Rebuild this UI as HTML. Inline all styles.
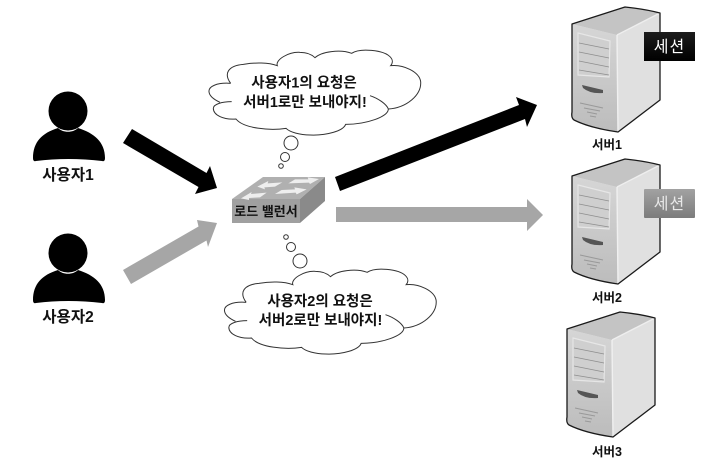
<!DOCTYPE html>
<html lang="ko"><head><meta charset="utf-8"><title>로드 밸런서</title>
<style>
html,body{margin:0;padding:0;background:#fff;width:711px;height:462px;overflow:hidden}
svg{display:block;filter:blur(.35px)}
text{font-family:"Liberation Sans","Noto Sans CJK KR",sans-serif;font-weight:700;text-anchor:middle;fill:#111}
</style></head><body>
<svg width="711" height="462" viewBox="0 0 711 462" xmlns="http://www.w3.org/2000/svg">
<defs>
<linearGradient id="f" x1="0" y1="0" x2="0" y2="1"><stop offset="0" stop-color="#d6d6d6"/><stop offset="1" stop-color="#bcbcbc"/></linearGradient>
<linearGradient id="sb" x1="0" y1="0" x2="0" y2="1"><stop offset="0" stop-color="#1c1c1c"/><stop offset="1" stop-color="#000"/></linearGradient>
<linearGradient id="sg" x1="0" y1="0" x2="0" y2="1"><stop offset="0" stop-color="#a2a2a2"/><stop offset="1" stop-color="#7c7c7c"/></linearGradient>
<g id="server">
<path d="M572,24 L625,7 Q645,9 660,13 L660,100 L618,132 Q590,128 574,120 Q571,118 572,112 Z" fill="#e0e0e0"/>
<path d="M572,24 L625,7 Q645,9 660,13 L617,35 Z" fill="#c4c4c4"/>
<path d="M572,24 L617,35 L618,132 Q590,128 574,120 Q571,118 572,112 Z" fill="url(#f)"/>
<path d="M617,35 L660,13" stroke="#eee" stroke-width="1.4" fill="none"/>
<path d="M617,35 L618,132" stroke="#f0f0f0" stroke-width="1.4" fill="none"/>
<path d="M578,33 L610,41 L609,77 L578,75 Z" fill="#cfcfcf" stroke="#e6e6e6" stroke-width="1.2"/>
<path d="M579,43 L609,49 M579,52 L609,58 M579,61 L609,67 M579,70 L609,75" stroke="#8e8e8e" stroke-width=".8" fill="none"/>
<path d="M582,85 L603,90 L603,93 Q590,94 583,88 Z" fill="#555"/>
<path d="M580,103 L603,108 M584,108 L600,111 M587,112 L597,114 M590,116 L596,117" stroke="#999" stroke-width="1.1" fill="none"/>
<path d="M572,24 L625,7 Q645,9 660,13 L660,100 L618,132 Q590,128 574,120 Q571,118 572,112 Z" fill="none" stroke="#1a1a1a" stroke-width="1.3" stroke-linejoin="round"/>
</g>
<g id="person">
<circle cx="68" cy="111" r="19.5" fill="#000"/>
<path d="M33,158 C33,142 42,133 58,128 C63,133 73,133 78,128 C94,133 105,142 105,158 Q105,162 102,161 Q68,157 36,161 Q33,162 33,158 Z" fill="#000"/>
</g>
<g id="cloud" transform="translate(200,45) scale(.33333)">
<path d="M92,115 C70,85 85,62 130,58 C165,52 205,52 232,62 C225,45 265,20 300,22 C320,22 335,28 345,38 C365,20 420,12 455,25 C480,8 550,15 570,35 C580,45 578,55 572,62 C610,58 658,80 662,110 C665,150 620,188 565,192 C565,215 500,238 437,238 C430,258 380,272 330,270 C300,270 270,262 258,250 C210,258 130,250 108,222 C70,225 40,210 40,190 C40,178 65,170 95,170 M92,115 C50,112 25,125 27,140 C28,155 45,165 60,172 M565,192 C560,178 535,160 510,152" fill="none" stroke="#333" stroke-width="3"/>
</g>
</defs>

<!-- arrows -->
<polygon points="132,129 206.5,173 210,166 217,188 195,194 198.5,187 123,143" fill="#000"/>
<polygon points="123,270 198.5,226.5 197,220 217,223 208,247 206.5,240.5 131,284" fill="#a6a6a6"/>
<polygon points="335,177 519,105 516,97 537,105 527,127 525,119 340,191" fill="#000"/>
<polygon points="336,207 527,207 527,199 543,215 527,231 527,222 336,222" fill="#a6a6a6"/>

<!-- users -->
<use href="#person"/>
<use href="#person" y="142"/>
<text x="68" y="180" font-size="15.5">사용자1</text>
<text x="68" y="322" font-size="15.5">사용자2</text>

<!-- clouds -->
<use href="#cloud"/>
<use href="#cloud" x="15.5" y="219"/>
<text x="304" y="87.5" font-size="14.5">사용자1의 요청은</text>
<text x="305" y="107" font-size="14.5">서버1로만 보내야지!</text>
<text x="320" y="306" font-size="14.5">사용자2의 요청은</text>
<text x="320.5" y="325" font-size="14.5">서버2로만 보내야지!</text>
<g fill="#fff" stroke="#333" stroke-width="1">
<circle cx="291" cy="143" r="7"/><circle cx="285" cy="157" r="4.5"/><circle cx="281" cy="166" r="2.3"/>
<circle cx="286" cy="237" r="2.3"/><circle cx="291" cy="247" r="4.5"/><circle cx="300" cy="261" r="7"/>
</g>

<!-- load balancer -->
<polygon points="232,199 263,177 325,177 300,199" fill="#b0b0b0"/>
<polygon points="232,199 300,199 300,223 232,223" fill="#a0a0a0"/>
<polygon points="300,199 325,177 325,201 300,223" fill="#8a8a8a"/>
<g fill="#eee" transform="translate(225,170) scale(.33333)">
<polygon points="97,50 130,33 128,40 172,37 150,50 118,52 120,58"/>
<polygon points="190,40 210,28 250,28 248,22 282,27 255,42 252,38"/>
<polygon points="48,85 80,66 78,72 125,68 105,82 72,84 72,90"/>
<polygon points="150,72 170,60 210,58 208,52 245,58 215,73 212,68"/>
</g>
<text x="266" y="216" font-size="13">로드 밸런서</text>

<!-- servers -->
<use href="#server"/>
<use href="#server" y="152"/>
<use href="#server" x="-5" y="305"/>
<rect x="644" y="32" width="51" height="29" fill="url(#sb)"/>
<text x="669.5" y="52" font-size="16" letter-spacing="1" style="font-weight:400;fill:#fff">세션</text>
<rect x="644" y="189" width="51" height="29" rx="1" fill="url(#sg)"/>
<text x="669.5" y="209" font-size="16" letter-spacing="1" style="font-weight:400;fill:#e8e8e8">세션</text>
<text x="607" y="149" font-size="12.5">서버1</text>
<text x="607" y="302" font-size="12.5">서버2</text>
<text x="607" y="456" font-size="12.5">서버3</text>
</svg>
</body></html>
